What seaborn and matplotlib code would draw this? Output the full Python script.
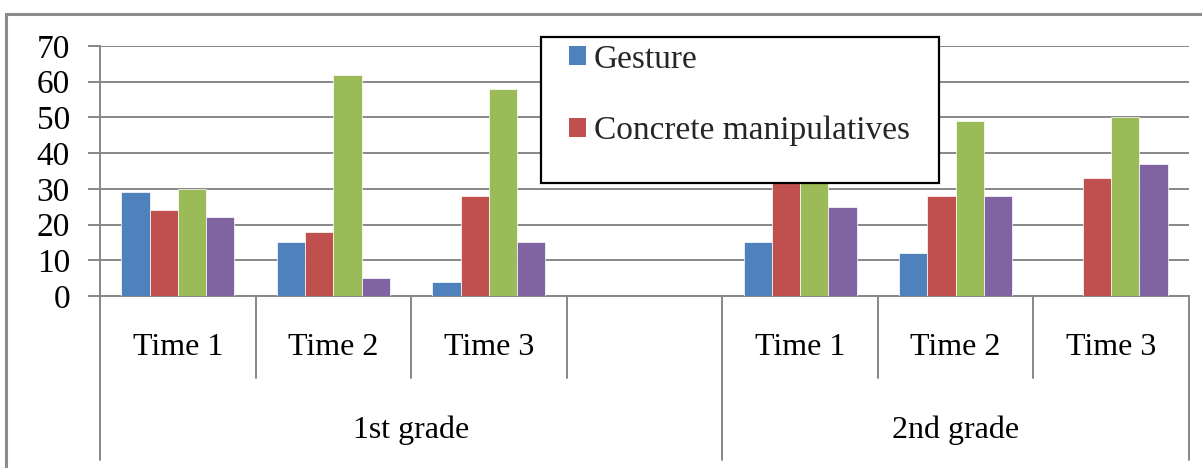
import matplotlib
matplotlib.use("Agg")
import matplotlib.pyplot as plt
from matplotlib.patches import Rectangle, Patch
from matplotlib.lines import Line2D
import matplotlib.transforms as mtrans
import pandas as pd
import seaborn as sns

# ---- data -------------------------------------------------------------
grades = ["1st grade", "2nd grade"]
times = ["Time 1", "Time 2", "Time 3"]
series_names = ["Gesture", "Concrete manipulatives", "Series 3", "Series 4"]
slots = ["1st grade|Time 1", "1st grade|Time 2", "1st grade|Time 3", "1st grade|",
         "2nd grade|Time 1", "2nd grade|Time 2", "2nd grade|Time 3"]
data_slots = ["1st grade|Time 1", "1st grade|Time 2", "1st grade|Time 3",
              "2nd grade|Time 1", "2nd grade|Time 2", "2nd grade|Time 3"]
gesture = [29, 15, 4, 15, 12, 0]
concrete = [24, 18, 28, 36, 28, 33]
series3 = [30, 62, 58, 45, 49, 50]
series4 = [22, 5, 15, 25, 28, 37]
colors = ["#4F81BD", "#C0504D", "#9BBB59", "#8064A2"]
yticks = [0, 10, 20, 30, 40, 50, 60, 70]

rows = []
for name, vals in zip(series_names, [gesture, concrete, series3, series4]):
    for s, v in zip(data_slots, vals):
        rows.append({"slot": s, "series": name, "value": v})
df = pd.DataFrame(rows)

# ---- style ------------------------------------------------------------
sns.set_theme(style="white")
plt.rcParams["font.family"] = ["Liberation Serif", "DejaVu Serif"]
FS_TICK = 24
FS_CAT = 23
FS_LEG = 24
GRID = "#878787"
W, H = 1202, 468

fig = plt.figure(figsize=(W / 100, H / 100), dpi=100)
fig.patch.set_facecolor("white")
ax = fig.add_axes([100 / W, 1 - 296 / H, (1189 - 100) / W, (296 - 46) / H])

sns.barplot(data=df, x="slot", y="value", hue="series", order=slots,
            hue_order=series_names, palette=colors, errorbar=None,
            width=4 / 5.5, gap=0, legend=False, saturation=1,
            edgecolor="white", linewidth=0.5, ax=ax, zorder=3)

ax.set_xlim(-0.5, len(slots) - 0.5)
ax.set_ylim(0, 70)
ax.set_yticks(yticks)
ax.set_yticklabels([str(t) for t in yticks], fontsize=FS_TICK, color="black")
ax.set_xticks([])
ax.set_xlabel("")
ax.set_ylabel("")
ax.yaxis.grid(True, color=GRID, linewidth=1.4, zorder=0)
ax.set_axisbelow(True)
ax.tick_params(axis="y", direction="out", length=8.6, width=1.4,
               color=GRID, pad=13, left=True)
for side in ["top", "right"]:
    ax.spines[side].set_visible(False)
for side in ["left", "bottom"]:
    ax.spines[side].set_color(GRID)
    ax.spines[side].set_linewidth(1.4)

# ---- two-level category axis -------------------------------------------
trans = mtrans.blended_transform_factory(ax.transData, ax.transAxes)
px = 1 / (296 - 46)  # one pixel in axes-y units
lvl1 = -(378 - 296) * px
lvl2 = -(460 - 296) * px
for xb in [0.5, 1.5, 2.5, 4.5, 5.5]:
    ax.add_line(Line2D([xb, xb], [0, lvl1], transform=trans, color=GRID,
                       lw=1.4, clip_on=False))
for xb in [-0.5, 3.5, 6.5]:
    ax.add_line(Line2D([xb, xb], [0, lvl2], transform=trans, color=GRID,
                       lw=1.4, clip_on=False))

for i, s in enumerate(slots):
    g, t = s.split("|")
    if t:
        ax.text(i, -(355 - 296) * px, t, transform=trans, ha="center",
                va="baseline", fontsize=FS_CAT, color="black")
ax.text(1.5, -(438 - 296) * px, grades[0], transform=trans, ha="center",
        va="baseline", fontsize=FS_CAT, color="black")
ax.text(5.0, -(438 - 296) * px, grades[1], transform=trans, ha="center",
        va="baseline", fontsize=FS_CAT, color="black")

# ---- outer chart border ------------------------------------------------
fig.add_artist(Rectangle((6 / W, -0.2), 1.3, 1.2 - 14 / H,
                         transform=fig.transFigure, fill=False,
                         edgecolor="#8c8c8c", lw=2.2, zorder=1))

# ---- legend box --------------------------------------------------------
fig.add_artist(Rectangle((541 / W, 1 - 183 / H), (939 - 541) / W, (183 - 37) / H,
                         transform=fig.transFigure, facecolor="white",
                         edgecolor="black", lw=1.6, zorder=4))
handles = [Patch(facecolor=colors[0], edgecolor="none"),
           Patch(facecolor=colors[1], edgecolor="none")]
leg = fig.legend(handles, series_names[:2], loc="upper left",
                 bbox_to_anchor=(569 / W, 1 - 44 / H), bbox_transform=fig.transFigure,
                 frameon=False, fontsize=FS_LEG, borderpad=0, borderaxespad=0,
                 labelspacing=1.23, handlelength=0.5, handleheight=0.5,
                 handletextpad=0.25)
leg.set_zorder(5)

fig.savefig("out.png", dpi=100, facecolor="white")
